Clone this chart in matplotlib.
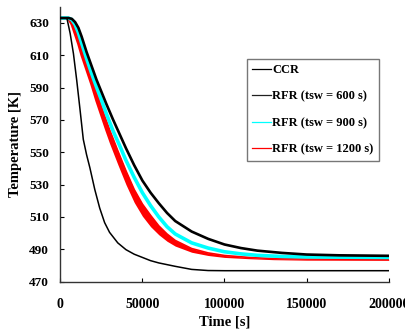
import matplotlib
matplotlib.use("Agg")
import matplotlib.pyplot as plt
from matplotlib.lines import Line2D

plt.rcParams['font.family'] = ['Liberation Serif', 'DejaVu Serif']
plt.rcParams['font.weight'] = 'bold'

# ---- data ----
ccr_t = [0, 4000, 6000, 8000, 10000, 12000, 14000, 16000, 18000, 21000, 24000, 27000,
         30000, 35000, 40000, 45000, 50000, 55000, 60000, 70000, 80000, 90000, 100000, 200000]
ccr_T = [633.2, 633, 623.5, 611, 594.5, 576.5, 558, 548.5, 540.5, 527, 515.5, 506.5,
         500.5, 494, 489.8, 487, 485, 483, 481.6, 479.5, 477.6, 476.9, 476.8, 476.8]

rfr600_t = [0, 5000, 7000, 9000, 11000, 13000, 16000, 19000, 22000, 25000, 28000, 32000,
            36000, 40000, 45000, 50000, 55000, 60000, 65000, 70000, 80000, 90000, 100000,
            110000, 120000, 135000, 150000, 170000, 200000]
rfr600_T = [633, 633, 632.5, 630.5, 627, 621.5, 612, 603.5, 595, 587.5, 580, 570.5,
            561.5, 552.5, 542, 532.5, 525, 518.5, 512.5, 507.5, 501, 496.5, 493,
            490.8, 489.2, 487.8, 486.8, 486.3, 486]

rfr900_t = [0, 5000, 7000, 9000, 11000, 13000, 16000, 19000, 22000, 25000, 28000, 32000,
            36000, 40000, 45000, 50000, 55000, 60000, 65000, 70000, 80000, 90000, 100000,
            110000, 120000, 135000, 150000, 200000]
rfr900_T = [633, 633, 632, 629, 624, 617.5, 608, 599, 590.5, 582.5, 574, 563.5,
            554.5, 545, 534.5, 525, 517, 510, 504, 499.5, 494, 490.8, 488.5,
            487.2, 486.3, 485.6, 485.3, 485]

rfr1200_t = [0, 4000, 6000, 8000, 10000, 12000, 15000, 18000, 21000, 24000, 27000, 30000,
             35000, 40000, 45000, 50000, 55000, 60000, 65000, 70000, 80000, 90000, 100000,
             115000, 130000, 150000, 200000]
rfr1200_top = [633, 633, 632, 629, 624, 618, 609, 600, 590.5, 581.5, 572.5, 564,
               551, 538.5, 527, 518, 511, 504.5, 499.5, 495.5, 490.5, 487.8, 486.2,
               485, 484.3, 484, 483.8]
rfr1200_low = [633, 632.5, 629, 623, 617, 610, 601, 592, 582, 573, 564, 555.5,
               542.5, 530, 519, 510.5, 504, 499, 495, 492, 488.2, 486.2, 485,
               484.2, 483.6, 483.3, 483.2]

labels = ['CCR', 'RFR (tsw = 600 s)', 'RFR (tsw = 900 s)', 'RFR (tsw = 1200 s)']
colors = ['black', '#202020', '#00FFFF', '#FF0000']
xticks = [0, 50000, 100000, 150000, 200000]
yticks = [470, 490, 510, 530, 550, 570, 590, 610, 630]

# ---- figure ----
fig = plt.figure(figsize=(4.06, 3.31), dpi=100)
ax = fig.add_axes([60.3 / 406, 49.3 / 331, 328.4 / 406, 275 / 331])

ax.fill_between(rfr1200_t, rfr1200_low, rfr1200_top, color=colors[3], lw=0, zorder=1)
ax.plot(rfr1200_t, rfr1200_top, color=colors[3], lw=1.2, zorder=1.5)
ax.plot(rfr900_t, rfr900_T, color=colors[2], lw=2.6, zorder=2)
ax.plot(rfr600_t, rfr600_T, color='black', lw=1.9, zorder=3)
ax.plot(ccr_t, ccr_T, color='black', lw=1.1, zorder=4)

ax.set_xlim(0, 200000)
ax.set_ylim(470, 640)
ax.set_xticks(xticks)
ax.set_xticklabels([str(v) for v in xticks])
ax.set_yticks(yticks)
ax.set_yticklabels([str(v) for v in yticks])
ax.tick_params(direction='in', length=3, width=0.8)
ax.tick_params(axis='x', pad=12, labelsize=10)
ax.tick_params(axis='y', pad=8, labelsize=9.5)
for s in ['top', 'right']:
    ax.spines[s].set_visible(False)
for s in ['left', 'bottom']:
    ax.spines[s].set_linewidth(1.0)
    ax.spines[s].set_color('#333333')

ax.set_xlabel('Time [s]', fontsize=10.5, fontweight='bold', labelpad=3)
ax.set_ylabel('Temperature [K]', fontsize=10.5, fontweight='bold', labelpad=5)

handles = [Line2D([], [], color=c, lw=0.9) for c in colors]
leg = ax.legend(handles, labels, loc='upper left', bbox_to_anchor=(0.5676, 0.811),
                fontsize=9, frameon=True, fancybox=False, handlelength=1.5,
                handletextpad=0.1, labelspacing=1.15, borderpad=0.45,
                borderaxespad=0)
leg.get_frame().set_edgecolor('#555555')
leg.get_frame().set_linewidth(1.0)

fig.savefig('out.png', dpi=100)
